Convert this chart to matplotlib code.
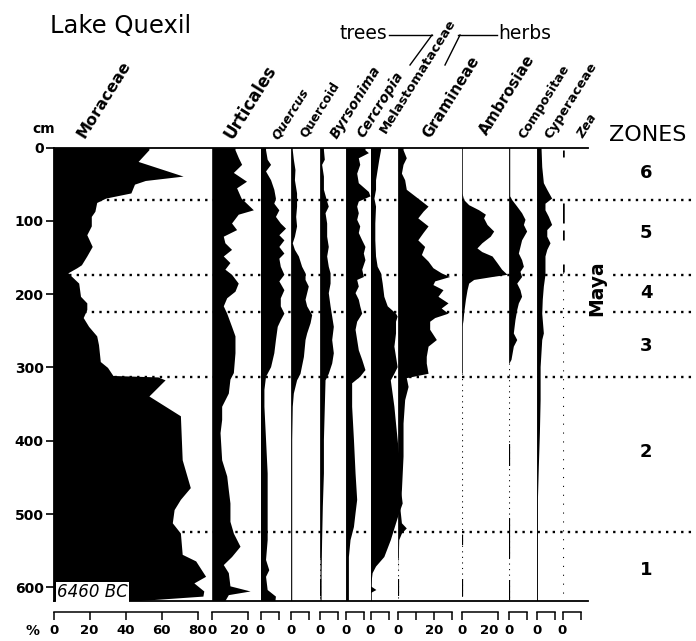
import matplotlib
matplotlib.use("Agg")
import matplotlib.pyplot as plt
from matplotlib.lines import Line2D

# ---- data (depth in cm, pollen in %) ----
moraceae_depth = [0, 3, 19, 39, 45, 50, 62, 69, 75, 87, 94, 107, 119, 135, 148, 160, 164, 171, 185, 203,
                  212, 221, 232, 244, 257, 269, 292, 300, 311, 313, 317, 339, 366, 426, 464, 480, 494, 512,
                  526, 555, 564, 585, 594, 605, 612, 618]
moraceae_pct = [53, 53, 47, 72, 51, 45, 43, 29, 24, 23, 21, 21, 18.5, 21.5, 18.5, 15.5, 13, 8, 14, 15,
                18.5, 18.5, 16.5, 19.5, 24, 25, 26, 30, 33, 58, 62, 53, 70.5, 71.5, 76, 70.5, 67, 66,
                70.5, 71.5, 79, 84.5, 78, 83.5, 83, 48]

urticales_depth = [0, 3, 14, 23, 34, 46, 55, 69, 85, 91, 103, 112, 121, 130, 139, 148, 157, 166, 173, 185,
                   196, 205, 216, 226, 244, 257, 280, 307, 316, 335, 353, 371, 389, 426, 448, 467, 485, 510,
                   526, 544, 558, 569, 580, 598, 605, 610, 618]
urticales_pct = [12.6, 12.6, 14.5, 16.3, 11.7, 19, 13.5, 16, 22.8, 14.4, 10.7, 13.5, 6.1, 7, 10.7, 6.1, 9.8,
                 7, 10.7, 14.4, 12.6, 8, 6.1, 8, 10.7, 12.6, 12.6, 11.7, 9.8, 8.9, 5.2, 5.2, 4.3, 5.2, 8,
                 8.9, 9.8, 9.8, 11.7, 15.4, 10.7, 6.1, 8.9, 9.8, 21, 8.9, 7]

quercus_depth = [0, 3, 16, 23, 32, 44, 57, 69, 76, 85, 94, 103, 110, 119, 126, 135, 144, 151, 162, 173,
                 182, 194, 205, 216, 226, 235, 244, 262, 280, 299, 312, 330, 353, 398, 444, 489, 535, 562,
                 576, 585, 603, 612, 618]
quercus_pct = [2.8, 2.8, 3.7, 5.6, 2.8, 5.6, 7.4, 8.3, 7.4, 10.2, 8.3, 11, 13.9, 10.2, 13, 10.2, 13, 10.2,
               11, 13, 10.2, 13, 11, 11, 13, 11, 9.3, 8.3, 7.4, 5.6, 2.8, 1.9, 1.9, 2.8, 3.7, 3.7, 3.7,
               2.8, 4.6, 2.8, 3.7, 8.3, 8]

quercoid_depth = [0, 3, 16, 30, 44, 62, 80, 94, 107, 121, 130, 139, 148, 162, 171, 180, 189, 198, 207, 216,
                  228, 239, 253, 262, 285, 308, 317, 335, 353, 398, 618]
quercoid_pct = [0.7, 0.7, 1.3, 2.2, 1.9, 3.1, 3.1, 2.6, 3.1, 1.9, 0.7, 1.9, 4.1, 5.9, 7.8, 7.8, 9.6, 8.7,
                7.8, 8.7, 11.5, 10.6, 8.7, 7.8, 6.9, 5, 3.1, 1.3, 0.7, 0.4, 0.4]

byrsonima_depth = [0, 3, 16, 23, 39, 57, 73, 80, 89, 103, 121, 135, 148, 162, 171, 185, 198, 216, 230, 244,
                   262, 280, 294, 308, 317, 353, 398, 444, 489, 535, 580, 618]
byrsonima_pct = [1.9, 1.9, 2.4, 0.9, 1.9, 1.9, 3.7, 4.6, 2.8, 3.7, 3.7, 4.6, 3.7, 4.6, 5.6, 5.6, 4.6, 5.6,
                 6.5, 7.4, 6.5, 7.4, 6.5, 4.6, 2.8, 2.4, 1.9, 1.9, 1.3, 0.9, 0.6, 0.6]

cercropia_depth = [0, 3, 7, 14, 23, 35, 48, 60, 66, 73, 80, 89, 98, 107, 116, 126, 135, 144, 153, 166, 176,
                   180, 189, 198, 207, 216, 226, 237, 248, 262, 276, 289, 303, 312, 321, 353, 398, 444, 480,
                   498, 517, 535, 558, 580, 618]
cercropia_pct = [10.7, 10.7, 12.6, 7, 7.8, 6.1, 7, 12.6, 13.5, 7, 6.1, 7, 6.1, 7.8, 7, 8.9, 10.7, 9.8, 10.7,
                 8.9, 9.8, 6.1, 7, 5.2, 7, 7.8, 8.9, 6.1, 5.2, 6.1, 7, 8.9, 10.7, 7.8, 3.3, 3.3, 4.3, 5.2,
                 6.1, 5.2, 4.3, 2.4, 1.5, 1.5, 1.5]

melasto_depth = [0, 3, 16, 30, 44, 57, 69, 80, 103, 126, 148, 162, 171, 185, 203, 216, 226, 230, 237, 253,
                 271, 285, 299, 308, 317, 335, 353, 376, 398, 421, 444, 467, 485, 498, 512, 535, 558, 571,
                 580, 598, 603, 607, 618]
melasto_pct = [5.6, 5.6, 4.6, 3.7, 2.8, 2.8, 1.9, 2.8, 2.4, 2.4, 2.8, 3.7, 5.6, 6.5, 7.4, 9.3, 13.9, 14.8,
               13.9, 13.9, 13, 13.9, 14.8, 13, 11, 12, 13, 13.9, 14.8, 15.7, 15.7, 16.7, 17.6, 15.7, 13.9,
               11, 7.4, 2.8, 0.9, 0, 3, 0, 0]

gramineae_depth = [0, 3, 14, 23, 35, 44, 57, 64, 71, 80, 87, 96, 107, 116, 126, 135, 146, 155, 164, 171,
                   176, 182, 187, 194, 203, 212, 219, 226, 232, 237, 248, 262, 271, 285, 294, 308, 314, 326,
                   344, 376, 421, 467, 489, 512, 519, 526, 535, 580, 618]
gramineae_pct = [2.8, 2.8, 4.6, 2.8, 1.9, 3.7, 4.6, 8.3, 12, 16.7, 13.9, 11, 16.7, 13.9, 11, 14.8, 13, 16.7,
                 19.4, 24, 28.7, 20.4, 19.4, 25, 22.2, 27.8, 24, 27.8, 20.4, 17.6, 17.6, 21.3, 16.7, 15.7,
                 15.7, 16.7, 4.6, 5.6, 3.7, 2.8, 2.8, 1.9, 0.9, 1.9, 4.6, 1.9, 0.4, 0, 0]

ambrosiae_depth = [0, 62, 71, 78, 85, 91, 96, 105, 114, 121, 130, 137, 142, 148, 157, 166, 173, 176, 180,
                   185, 194, 207, 226, 235, 244, 618]
ambrosiae_pct = [0, 0, 0.9, 3.7, 9.3, 13, 12, 13.9, 17.6, 15.7, 11, 8.3, 11, 16.7, 19.4, 22, 25, 16.7, 6.5,
                 3.7, 2.8, 1.9, 0.9, 0.6, 0, 0]

compositae_depth = [0, 66, 71, 80, 89, 98, 105, 114, 126, 135, 144, 153, 162, 169, 176, 185, 194, 203, 212,
                    221, 235, 253, 262, 271, 289, 294, 618]
compositae_pct = [0.4, 0.4, 1.5, 4.3, 7, 8.9, 8, 9.8, 7, 6.1, 5.2, 7, 8, 6.1, 7, 4.3, 6.1, 7, 5.2, 4.3,
                  3.3, 2.4, 4.3, 2.4, 1.1, 0, 0]

cyperaceae_depth = [0, 26, 48, 57, 69, 76, 85, 94, 105, 112, 121, 130, 139, 148, 162, 173, 189, 207, 226,
                    253, 262, 299, 344, 389, 435, 480, 618]
cyperaceae_pct = [2.4, 2.8, 3.7, 5.6, 8.3, 4.6, 4.6, 6.5, 8.3, 5.6, 5.6, 7.4, 5.6, 4.6, 4.6, 4.6, 3.7, 3.1,
                  2.8, 3.7, 2.8, 1.9, 1.9, 1.5, 0.9, 0.4, 0.4]

# Zea: present only as short trace segments
zea_top = [4, 76, 112, 159]
zea_bottom = [13, 103, 126, 170]

zone_bounds = [71, 174, 225, 313, 525]
zone_names = ["6", "5", "4", "3", "2", "1"]
zone_label_depth = [35, 117, 198, 271, 416, 576]

# ---- layout (pixels) ----
W, H = 696, 641
TOP, BOT = 147.5, 600.5
DMAX = 618
PX_PCT = 1.8

fig = plt.figure(figsize=(W / 100, H / 100), dpi=100)
plt.rcParams['font.family'] = ['DejaVu Sans']


def px_axes(x0, y0, x1, y1):
    return fig.add_axes([x0 / W, 1 - y1 / H, (x1 - x0) / W, (y1 - y0) / H])


def ftext(x, y, s, **kw):
    return fig.text(x / W, 1 - y / H, s, **kw)


# frame + depth axis
ax_frame = px_axes(53.5, TOP, 588, BOT)
ax_frame.set_xlim(0, 1)
ax_frame.set_ylim(DMAX, 0)
ax_frame.spines['right'].set_visible(False)
for s in ['top', 'bottom', 'left']:
    ax_frame.spines[s].set_linewidth(1.3)
ax_frame.set_xticks([])
ax_frame.set_yticks(range(0, 700, 100))
ax_frame.set_yticklabels([str(v) for v in range(0, 700, 100)], fontsize=10, fontweight='bold')
ax_frame.tick_params(axis='y', length=6, width=1.2, pad=1)

# zone boundaries (dotted, behind the curves)
xmax_frac = (696 - 53.5) / (588 - 53.5)
for d in zone_bounds:
    ax_frame.axhline(d, xmin=0, xmax=xmax_frac, clip_on=False, color='k', lw=1.7,
                     ls=(0, (1, 2.2)), zorder=0.5)

panels = [
    # name, left px, right px, depth, pct, bracket max, ticks, labels, solid baseline end, bold pieces
    ("Moraceae", 53.5, 212.3, moraceae_depth, moraceae_pct, 80, [0, 20, 40, 60, 80],
     ["0", "20", "40", "60", "80"], DMAX, []),
    ("Urticales", 212.3, 260.5, urticales_depth, urticales_pct, 20, [0, 20], ["0", "20"], DMAX, []),
    ("Quercus", 260.5, 291, quercus_depth, quercus_pct, 10, [0, 10], ["0", ""], DMAX, []),
    ("Quercoid", 291, 320, quercoid_depth, quercoid_pct, 10, [0, 10], ["0", ""], DMAX, []),
    ("Byrsonima", 320, 345.7, byrsonima_depth, byrsonima_pct, 10, [0, 10], ["0", ""], 560, [(588, 612)]),
    ("Cercropia", 345.7, 370.5, cercropia_depth, cercropia_pct, 10, [0, 10], ["0", ""], DMAX, []),
    ("Melastomataceae", 370.5, 398, melasto_depth, melasto_pct, 10, [0, 10], ["0", ""], DMAX, []),
    ("Gramineae", 398, 462, gramineae_depth, gramineae_pct, 30, [0, 10, 20, 30], ["0", "", "20", ""], 560,
     [(588, 612)]),
    ("Ambrosiae", 462, 509, ambrosiae_depth, ambrosiae_pct, 20, [0, 20], ["0", "20"], 307,
     [(528, 542), (588, 612)]),
    ("Compositae", 509, 536.7, compositae_depth, compositae_pct, 10, [0, 10], ["0", ""], 294,
     [(405, 435), (505, 560), (590, 617)]),
    ("Cyperaceae", 536.7, 562.5, cyperaceae_depth, cyperaceae_pct, 10, [0, 10], ["0", ""], DMAX, []),
    ("Zea", 562.5, 588, None, None, 10, [0, 10], ["0", ""], 0, []),
]

for name, x0, x1, dep, pct, bmax, ticks, tlabels, solid_end, bold in panels:
    ax = px_axes(x0, TOP, x1, BOT)
    ax.patch.set_visible(False)
    ax.set_xlim(0, (x1 - x0) / PX_PCT)
    ax.set_ylim(DMAX, 0)
    for s in ['top', 'right', 'left']:
        ax.spines[s].set_visible(False)
    ax.set_yticks([])
    # bracket scale under the panel
    ax.spines['bottom'].set_position(('outward', 8.3))
    ax.spines['bottom'].set_bounds(0, bmax)
    ax.spines['bottom'].set_linewidth(1.1)
    ax.set_xticks(ticks, tlabels, fontsize=9.5, fontweight='bold')
    ax.tick_params(axis='x', direction='out', length=5.8, width=1.1, pad=2.5)
    if name in ("Urticales", "Ambrosiae"):
        ax.get_xticklabels()[-1].set_ha('right')

    if dep is not None:
        poly = ax.fill_betweenx(dep, 0, pct, color='k', lw=0)
        poly.set_clip_on(False)
        ax.vlines(0, 0, solid_end, color='k', lw=1.1)
        if solid_end < DMAX:
            ax.vlines(0, solid_end, DMAX, color='k', lw=0.8, linestyles=(0, (1, 4)))
        for a, b in bold:
            ax.vlines(0, a, b, color='k', lw=1.6)
    else:
        ax.vlines([0.3] * len(zea_top), zea_top, zea_bottom, color='k', lw=1.8)
        ax.vlines(0.3, zea_bottom[-1], DMAX, color='k', lw=0.8, linestyles=(0, (1, 7)))

# ---- texts ----
ftext(50, 33, "Lake Quexil", fontsize=17.5, ha='left', va='baseline')
ftext(32, 133, "cm", fontsize=10, fontweight='bold', ha='left', va='baseline')

labels = [
    ("Moraceae", 85, 139, 11.5, 'normal'),
    ("Urticales", 233, 140, 12, 'normal'),
    ("Quercus", 278, 140, 9, 'italic'),
    ("Quercoid", 306, 138, 9, 'normal'),
    ("Byrsonima", 337, 139, 10, 'italic'),
    ("Cercropia", 364, 138, 10, 'italic'),
    ("Melastomataceae", 386, 134, 9.5, 'normal'),
    ("Gramineae", 430, 139, 11, 'normal'),
    ("Ambrosiae", 487, 136, 11, 'normal'),
    ("Compositae", 525, 139, 9.2, 'normal'),
    ("Cyperaceae", 551, 139, 9.5, 'normal'),
    ("Zea", 583, 139, 9, 'italic'),
]
for s, x, y, fs, st in labels:
    ftext(x, y, s, rotation=58, rotation_mode='anchor', ha='left', va='baseline',
          fontsize=fs, fontweight='bold', fontstyle=st)

# trees / herbs bracket
ftext(340, 39, "trees", fontsize=13.5, ha='left', va='baseline')
ftext(498, 39, "herbs", fontsize=13.5, ha='left', va='baseline')
for (xa, ya), (xb, yb) in [((389, 35), (432, 35)), ((432, 35), (410, 65)),
                           ((458, 35), (497, 35)), ((460, 35), (445, 65))]:
    fig.add_artist(Line2D([xa / W, xb / W], [1 - ya / H, 1 - yb / H], color='k', lw=1.0))

ftext(648, 135, "ZONES", fontsize=16, ha='center', va='center')
zone_tr = ax_frame.get_yaxis_transform()
zx = (646 - 53.5) / (588 - 53.5)
for nm, d in zip(zone_names, zone_label_depth):
    ax_frame.text(zx, d, nm, transform=zone_tr, fontsize=13, fontweight='bold', ha='center', va='center')

ftext(597, 288, "Maya", rotation=90, fontsize=13.5, fontweight='bold', ha='center', va='center',
      bbox=dict(facecolor='white', edgecolor='none', pad=1))
ftext(57, 597, "6460 BC", fontsize=12, fontstyle='italic', ha='left', va='baseline',
      bbox=dict(facecolor='white', edgecolor='none', pad=0.8))
ftext(32, 631, "%", fontsize=10, fontweight='bold', ha='center', va='center')

fig.savefig("out.png", dpi=100)
